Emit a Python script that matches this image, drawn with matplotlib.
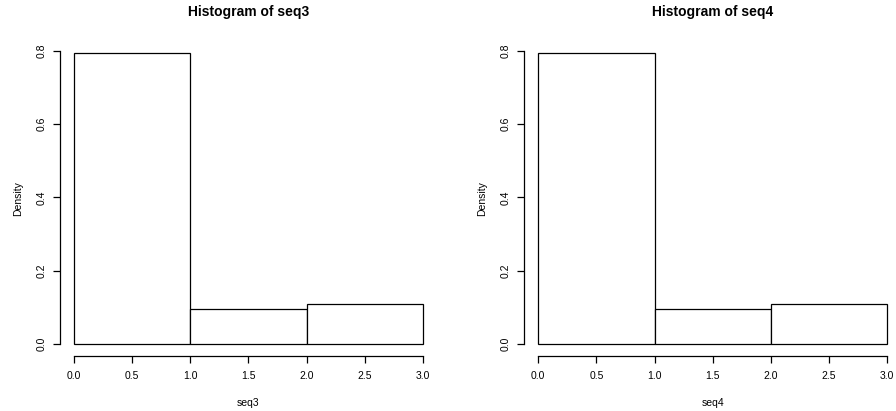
import numpy as np
import matplotlib.pyplot as plt

plt.rcParams['font.family'] = ['Liberation Sans', 'DejaVu Sans']

# histogram breaks and densities
breaks = [0.0, 1.0, 2.0, 3.0]
dens_seq3 = [0.794, 0.095, 0.110]
dens_seq4 = [0.792, 0.097, 0.111]
names = ["seq3", "seq4"]
xticks = [0.0, 0.5, 1.0, 1.5, 2.0, 2.5, 3.0]
yticks = [0.0, 0.2, 0.4, 0.6, 0.8]

fig = plt.figure(figsize=(8.96, 4.11), dpi=100)
W, H = 896, 411
boxes = [(60, 41, 437, 356), (524.3, 41, 901.3, 356)]

for (x0, y0, x1, y1), name, dens in zip(boxes, names, [dens_seq3, dens_seq4]):
    ax = fig.add_axes([x0 / W, 1 - y1 / H, (x1 - x0) / W, (y1 - y0) / H])
    ax.bar(breaks[:-1], dens, width=np.diff(breaks), align='edge',
           color='white', edgecolor='black', linewidth=0.9)
    ax.set_xlim(-0.12, 3.12)
    ax.set_ylim(-0.032, 0.826)
    for s in ['top', 'right']:
        ax.spines[s].set_visible(False)
    ax.spines['left'].set_bounds(0, 0.8)
    ax.spines['bottom'].set_bounds(0, 3)
    for s in ['left', 'bottom']:
        ax.spines[s].set_linewidth(0.9)
    ax.set_xticks(xticks)
    ax.set_xticklabels([f"{t:.1f}" for t in xticks])
    ax.set_yticks(yticks)
    ax.set_yticklabels([f"{t:.1f}" for t in yticks], rotation=90, va='center')
    ax.tick_params(axis='x', length=5, width=0.9, pad=6, labelsize=7.5)
    ax.tick_params(axis='y', length=5, width=0.9, pad=4.5, labelsize=7.5)
    ax.set_xlabel(name, fontsize=7.5, labelpad=12)
    ax.set_ylabel("Density", fontsize=7.5, labelpad=10)
    ax.set_title(f"Histogram of {name}", fontsize=10, fontweight='bold', pad=18)
    ax.patch.set_alpha(0)

fig.savefig("out.png", dpi=100)
